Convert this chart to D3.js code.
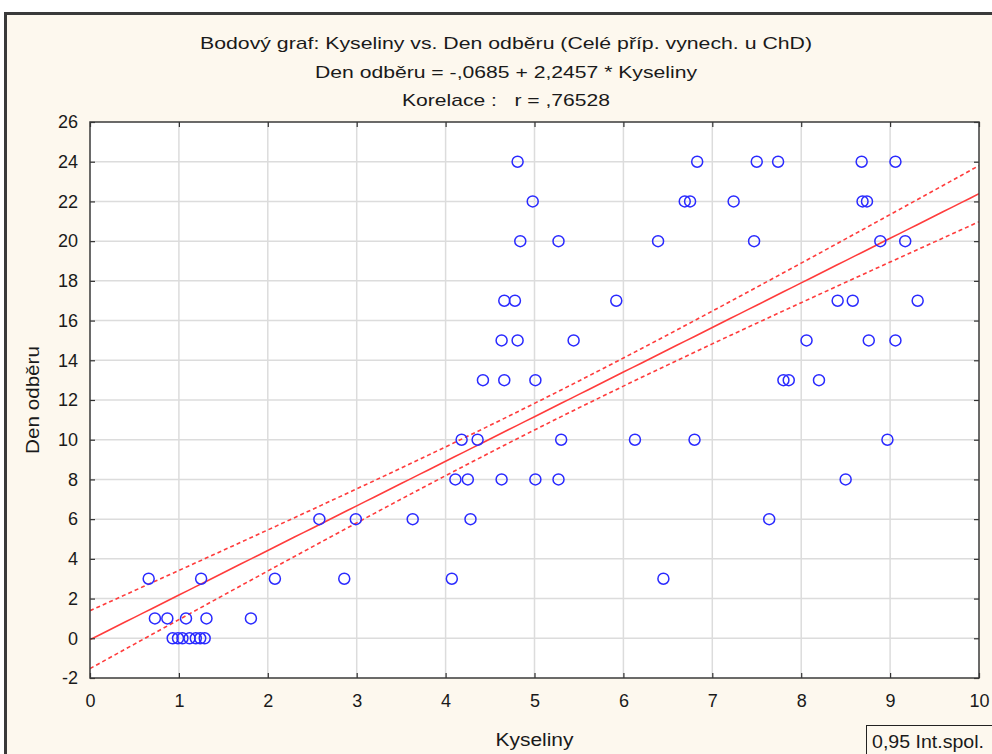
<!DOCTYPE html>
<html>
<head>
<meta charset="utf-8">
<script src="https://cdn.jsdelivr.net/npm/d3@7"></script>
<style>
  body { margin: 0; background: #fff; }
  svg { display: block; }
  text { font-family: "Liberation Sans", Arial, sans-serif; fill: #1a1a1a; white-space: pre; }
</style>
</head>
<body>
<div id="chart"></div>
<script>
// body vs. den odberu
const kyseliny = [
  4.81, 6.83, 7.50, 7.74, 8.68, 9.06,
  4.98, 6.69, 6.75, 7.24, 8.69, 8.74,
  4.84, 5.27, 6.39, 7.47, 8.89, 9.17,
  4.66, 4.78, 5.92, 8.41, 8.58, 9.31,
  4.63, 4.81, 5.44, 8.06, 8.76, 9.06,
  4.42, 4.66, 5.01, 7.80, 7.86, 8.20,
  4.18, 4.36, 5.30, 6.13, 6.80, 8.97,
  4.11, 4.25, 4.63, 5.01, 5.27, 8.50,
  2.58, 2.99, 3.63, 4.28, 7.64,
  0.66, 1.25, 2.08, 2.86, 4.07, 6.45,
  0.73, 0.87, 1.08, 1.31, 1.81,
  0.93, 0.99, 1.04, 1.12, 1.19, 1.24, 1.29
];
const denOdberu = [
  24, 24, 24, 24, 24, 24,
  22, 22, 22, 22, 22, 22,
  20, 20, 20, 20, 20, 20,
  17, 17, 17, 17, 17, 17,
  15, 15, 15, 15, 15, 15,
  13, 13, 13, 13, 13, 13,
  10, 10, 10, 10, 10, 10,
  8, 8, 8, 8, 8, 8,
  6, 6, 6, 6, 6,
  3, 3, 3, 3, 3, 3,
  1, 1, 1, 1, 1,
  0, 0, 0, 0, 0, 0, 0
];
const xTicks = d3.range(0, 11);
const yTicks = d3.range(-2, 27, 2);
const intercept = -0.0685, slope = 2.2457;
// pas spolehlivosti (0,95): polosirka ve stredu a sirka rozevreni
const bandCenter = 5.1, bandHalfMin = 0.67, bandSpread = 0.0645;
const titleLines = [
  "Bodový graf: Kyseliny vs. Den odběru (Celé příp. vynech. u ChD)",
  "Den odběru = -,0685 + 2,2457 * Kyseliny",
  "Korelace :   r = ,76528"
];
const titleWidths = [612, 382, 208];

const width = 992, height = 754;
const margin = { left: 90, right: 13, top: 122, bottom: 76 };

const svg = d3.select('#chart').append('svg')
  .attr('width', width)
  .attr('height', height);

// ramecek okna
svg.append('rect')
  .attr('x', 5.5).attr('y', 13.5)
  .attr('width', 1100).attr('height', 900)
  .attr('fill', '#fdf8ee')
  .attr('stroke', '#3a3a3a')
  .attr('stroke-width', 3);

const x = d3.scaleLinear().domain([0, 10]).range([margin.left, width - margin.right]);
const y = d3.scaleLinear().domain([-2, 26]).range([height - margin.bottom, margin.top]);

svg.append('rect')
  .attr('x', x(0)).attr('y', y(26))
  .attr('width', x(10) - x(0)).attr('height', y(-2) - y(26))
  .attr('fill', '#fff');

// mrizka
const grid = svg.append('g').attr('stroke', '#dcdcdc').attr('stroke-width', 1.5);
grid.selectAll('line.gx')
  .data(xTicks.slice(1, -1))
  .join('line')
  .attr('class', 'gx')
  .attr('x1', d => x(d)).attr('x2', d => x(d))
  .attr('y1', y(26)).attr('y2', y(-2));
grid.selectAll('line.gy')
  .data(yTicks.slice(1, -1))
  .join('line')
  .attr('class', 'gy')
  .attr('x1', x(0)).attr('x2', x(10))
  .attr('y1', d => y(d)).attr('y2', d => y(d));

// regrese a interval spolehlivosti
const fit = v => intercept + slope * v;
const halfWidth = v => Math.sqrt(bandHalfMin ** 2 + bandSpread * (v - bandCenter) ** 2);
const xs = d3.range(0, 10.01, 0.1);

svg.append('clipPath').attr('id', 'plotClip')
  .append('rect')
  .attr('x', x(0)).attr('y', y(26))
  .attr('width', x(10) - x(0)).attr('height', y(-2) - y(26));

const reg = svg.append('g').attr('clip-path', 'url(#plotClip)')
  .attr('fill', 'none').attr('stroke', '#ff3c3c').attr('stroke-width', 1.6);
reg.append('path')
  .attr('d', d3.line().x(v => x(v)).y(v => y(fit(v)))(xs));
reg.append('path')
  .attr('stroke-dasharray', '4,3')
  .attr('d', d3.line().x(v => x(v)).y(v => y(fit(v) + halfWidth(v)))(xs));
reg.append('path')
  .attr('stroke-dasharray', '4,3')
  .attr('d', d3.line().x(v => x(v)).y(v => y(fit(v) - halfWidth(v)))(xs));

// body
svg.append('g')
  .attr('fill', 'none')
  .attr('stroke', '#2a2aff')
  .attr('stroke-width', 1.5)
  .selectAll('circle')
  .data(kyseliny)
  .join('circle')
  .attr('cx', d => x(d))
  .attr('cy', (d, i) => y(denOdberu[i]))
  .attr('r', 5.5);

// osy
const fmt = d => String(d);
const axisStyle = g => {
  g.select('.domain').remove();
  g.selectAll('.tick line').attr('stroke', '#333').attr('stroke-width', 1.2);
  g.selectAll('.tick text').attr('font-size', 18).attr('fill', '#1a1a1a')
    .attr('font-family', '"Liberation Sans", Arial, sans-serif');
};
svg.append('g')
  .attr('transform', `translate(${x(0)},0)`)
  .call(d3.axisLeft(y).tickValues(yTicks).tickSize(-5).tickPadding(12).tickFormat(fmt))
  .call(axisStyle);
svg.append('g')
  .attr('transform', `translate(0,${y(-2)})`)
  .call(d3.axisBottom(x).tickValues(xTicks).tickSize(-5).tickPadding(16).tickFormat(fmt))
  .call(axisStyle);
svg.append('g')
  .attr('transform', `translate(${x(10)},0)`)
  .call(d3.axisRight(y).tickValues(yTicks).tickSize(-5).tickFormat(''))
  .call(axisStyle);
svg.append('g')
  .attr('transform', `translate(0,${y(26)})`)
  .call(d3.axisTop(x).tickValues(xTicks).tickSize(-5).tickFormat(''))
  .call(axisStyle);

svg.append('rect')
  .attr('x', x(0)).attr('y', y(26))
  .attr('width', x(10) - x(0)).attr('height', y(-2) - y(26))
  .attr('fill', 'none')
  .attr('stroke', '#3a3a3a')
  .attr('stroke-width', 1.5);

// titulky
svg.append('g')
  .selectAll('text')
  .data(titleLines)
  .join('text')
  .attr('x', 506)
  .attr('y', (d, i) => 49 + i * 28.5)
  .attr('text-anchor', 'middle')
  .attr('font-size', 17)
  .attr('textLength', (d, i) => titleWidths[i])
  .attr('lengthAdjust', 'spacingAndGlyphs')
  .text(d => d);

svg.append('text')
  .attr('x', (x(0) + x(10)) / 2)
  .attr('y', 746)
  .attr('text-anchor', 'middle')
  .attr('font-size', 18)
  .attr('textLength', 78)
  .attr('lengthAdjust', 'spacingAndGlyphs')
  .text('Kyseliny');

svg.append('text')
  .attr('transform', `translate(39,${(y(-2) + y(26)) / 2}) rotate(-90)`)
  .attr('text-anchor', 'middle')
  .attr('font-size', 18)
  .attr('textLength', 108)
  .attr('lengthAdjust', 'spacingAndGlyphs')
  .text('Den odběru');

// legenda
svg.append('rect')
  .attr('x', 866.5).attr('y', 725.5)
  .attr('width', 200).attr('height', 60)
  .attr('fill', '#fdf8ee')
  .attr('stroke', '#222')
  .attr('stroke-width', 1);
svg.append('text')
  .attr('x', 872)
  .attr('y', 748)
  .attr('font-size', 18)
  .attr('textLength', 112)
  .attr('lengthAdjust', 'spacingAndGlyphs')
  .text('0,95 Int.spol.');
</script>
</body>
</html>
